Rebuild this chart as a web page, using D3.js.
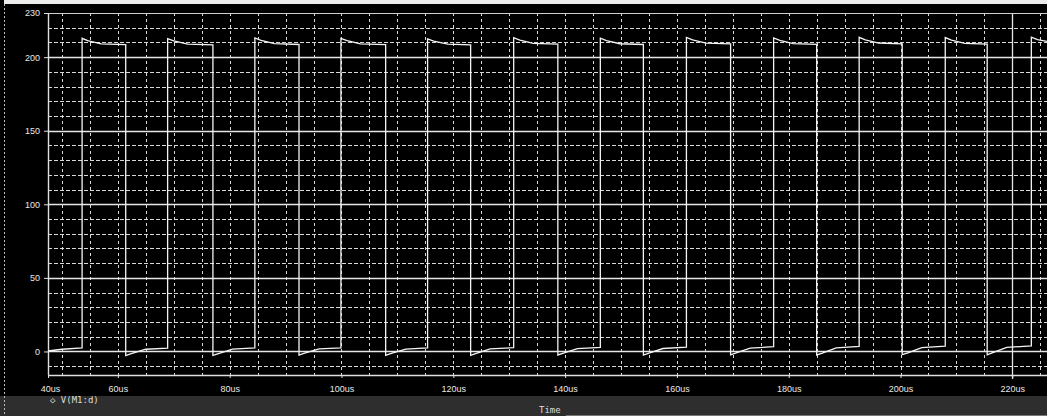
<!DOCTYPE html>
<html>
<head>
<meta charset="utf-8">
<script src="https://cdn.jsdelivr.net/npm/d3@7"></script>
<style>
  body { margin: 0; background: #000; }
  svg { display: block; }
</style>
</head>
<body>
<svg></svg>
<script>
// waveform V(M1:d), time in us, voltage in V
var times = [47.5, 50, 53.6,
  53.6, 54.6, 57, 61.4, 61.4, 62.4, 65, 68.9,
  68.9, 70.0, 72.5, 77.0, 77.0, 78, 80.5, 84.5,
  84.5, 85.6, 88, 92.4, 92.4, 93.4, 96, 99.9,
  99.9, 101, 103.4, 107.9, 107.9, 108.9, 111.5, 115.4,
  115.4, 116.5, 119, 123.1, 123.1, 124.1, 126.6, 130.8,
  130.8, 131.9, 134.3, 138.7, 138.7, 139.7, 142.2, 146.3,
  146.3, 147.4, 149.8, 154.0, 154.0, 155, 157.5, 161.7,
  161.7, 162.8, 165.2, 169.6, 169.6, 170.6, 173.1, 177.3,
  177.3, 178.4, 180.8, 185.0, 185.0, 186, 188.5, 192.6,
  192.6, 193.7, 196.1, 200.3, 200.3, 201.3, 203.8, 208.0,
  208.0, 209.1, 211.5, 215.5, 215.5, 216.5, 219, 223.4,
  223.4, 224.5, 226.5];
var volts = [0.3, 1.5, 2.4,
  212.8, 211.2, 209.0, 208.5, -2.8, -1.5, 1.5, 2.3,
  212.6, 211.0, 208.8, 208.4, -2.6, -1.4, 1.6, 2.4,
  213.0, 211.4, 209.2, 208.6, -2.5, -1.2, 1.7, 2.5,
  212.7, 211.2, 209.0, 208.5, -2.7, -1.3, 1.6, 2.4,
  212.4, 210.9, 208.8, 208.3, -2.6, -1.3, 1.8, 2.6,
  213.2, 211.5, 209.4, 208.9, -2.4, -1.1, 1.9, 2.7,
  212.9, 211.3, 209.1, 208.6, -2.5, -1.2, 2.0, 3.0,
  213.4, 211.7, 209.5, 209.0, -2.3, -1.0, 2.3, 3.2,
  213.0, 211.4, 209.2, 208.7, -2.4, -1.1, 2.4, 3.4,
  213.5, 211.8, 209.6, 209.1, -2.2, -1.0, 2.6, 3.6,
  213.3, 211.6, 209.4, 208.9, -2.3, -0.8, 2.8, 3.8,
  213.6, 211.9, 210.5];

var xTickValues = [47.5, 60, 80, 100, 120, 140, 160, 180, 200, 220];
var xTickLabels = ["40us", "60us", "80us", "100us", "120us", "140us", "160us", "180us", "200us", "220us"];
var yTickValues = [0, 50, 100, 150, 200, 230];
var yTickLabels = ["0", "50", "100", "150", "200", "230"];
var seriesName = "V(M1:d)";
var xTitle = "Time";

var svg_width = 1047;
var svg_height = 416;
var plot = { left: 48, right: 1047, top: 13, bottom: 375 };

var svg = d3.select("svg")
  .attr("width", svg_width)
  .attr("height", svg_height)
  .style("font-family", "'DejaVu Sans Mono', monospace");

svg.append("rect").attr("width", svg_width).attr("height", svg_height).attr("fill", "#000");
svg.append("rect").attr("x", 4).attr("y", 0).attr("width", svg_width - 4).attr("height", 4).attr("fill", "#ececec");
svg.append("rect").attr("x", 0).attr("y", 396).attr("width", svg_width).attr("height", 20).attr("fill", "#2e2e2e");
svg.append("line").attr("x1", 4.5).attr("x2", 4.5).attr("y1", 4).attr("y2", 416)
  .attr("stroke", "#bbb").attr("stroke-dasharray", "2,2");

var x = d3.scaleLinear().domain([47.5, 226.2]).range([plot.left, plot.right]);
var y = d3.scaleLinear().domain([-16, 230]).range([plot.bottom, plot.top]);

// minor grid
var grid = svg.append("g");
grid.selectAll(".vg")
  .data(d3.range(50, 226, 5))
  .join("line")
  .attr("x1", function(d) { return Math.round(x(d)) + 0.5; })
  .attr("x2", function(d) { return Math.round(x(d)) + 0.5; })
  .attr("y1", plot.top).attr("y2", plot.bottom)
  .attr("stroke", "#d8d8d8").attr("stroke-width", 1)
  .attr("stroke-dasharray", "3,3");

grid.selectAll(".hg")
  .data(d3.range(-10, 230, 10).filter(function(d) { return d % 50 !== 0; }))
  .join("line")
  .attr("x1", plot.left).attr("x2", plot.right)
  .attr("y1", function(d) { return Math.round(y(d)) + 0.5; })
  .attr("y2", function(d) { return Math.round(y(d)) + 0.5; })
  .attr("stroke", "#d8d8d8").attr("stroke-width", 1)
  .attr("stroke-dasharray", "4,2");

// major horizontal lines
grid.selectAll(".hm")
  .data([0, 50, 100, 150, 200])
  .join("line")
  .attr("x1", plot.left).attr("x2", plot.right)
  .attr("y1", function(d) { return Math.round(y(d)) + 0.5; })
  .attr("y2", function(d) { return Math.round(y(d)) + 0.5; })
  .attr("stroke", "#e6e6e6").attr("stroke-width", 1.3);

// solid vertical at 220us
grid.append("line")
  .attr("x1", Math.round(x(220)) + 0.5).attr("x2", Math.round(x(220)) + 0.5)
  .attr("y1", plot.top).attr("y2", plot.bottom + 4)
  .attr("stroke", "#e6e6e6").attr("stroke-width", 1.3);

// frame
svg.append("line").attr("x1", plot.left).attr("x2", plot.right)
  .attr("y1", plot.top + 0.5).attr("y2", plot.top + 0.5)
  .attr("stroke", "#cfcfcf").attr("stroke-width", 1.2);
svg.append("line").attr("x1", plot.left).attr("x2", plot.right)
  .attr("y1", plot.bottom + 0.5).attr("y2", plot.bottom + 0.5)
  .attr("stroke", "#e0e0e0").attr("stroke-width", 1.4);
svg.append("line").attr("x1", plot.left + 0.5).attr("x2", plot.left + 0.5)
  .attr("y1", plot.top).attr("y2", plot.bottom)
  .attr("stroke", "#e0e0e0").attr("stroke-width", 1.4);

// axes
var xAxis = d3.axisBottom(x)
  .tickValues(xTickValues)
  .tickSize(3)
  .tickPadding(8)
  .tickFormat(function(d, i) { return xTickLabels[i]; });
var gx = svg.append("g")
  .attr("transform", "translate(0," + plot.bottom + ")")
  .call(xAxis);
gx.select(".domain").remove();
gx.selectAll("line").attr("stroke", "#e0e0e0");
gx.selectAll("text").attr("fill", "#e8e8e8").style("font-size", "9px")
  .attr("dx", function(d, i) { return i === 0 ? "2" : "0"; });

var yAxis = d3.axisLeft(y)
  .tickValues(yTickValues)
  .tickSize(4)
  .tickPadding(4)
  .tickFormat(function(d, i) { return yTickLabels[i]; });
var gy = svg.append("g")
  .attr("transform", "translate(" + plot.left + ",0)")
  .call(yAxis);
gy.select(".domain").remove();
gy.selectAll("line").attr("stroke", "#e0e0e0");
gy.selectAll("text").attr("fill", "#e8e8e8").style("font-size", "9px");

// waveform
var data = times.map(function(t, i) { return [t, volts[i]]; });
var line = d3.line()
  .x(function(d) { return x(d[0]); })
  .y(function(d) { return y(d[1]); });

svg.append("path")
  .datum(data)
  .attr("fill", "none")
  .attr("stroke", "#f4f4f4")
  .attr("stroke-width", 1.3)
  .attr("d", line);

// legend and axis title
svg.append("text").attr("x", 50).attr("y", 403)
  .attr("fill", "#dcdcdc").style("font-size", "9px")
  .text("\u25C7 " + seriesName);
svg.append("text").attr("x", 539).attr("y", 413)
  .attr("fill", "#dcdcdc").style("font-size", "9px")
  .text(xTitle);
svg.append("line").attr("x1", 566).attr("x2", svg_width).attr("y1", 415.5).attr("y2", 415.5)
  .attr("stroke", "#777").attr("stroke-width", 1);
</script>
</body>
</html>
